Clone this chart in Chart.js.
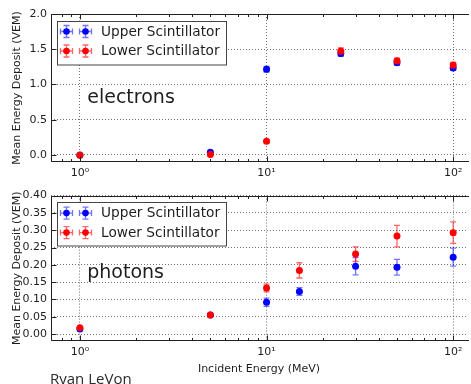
<!DOCTYPE html>
<html><head><meta charset="utf-8">
<script src="https://cdn.jsdelivr.net/npm/chart.js@4/dist/chart.umd.min.js"></script>
<style>
html,body{margin:0;padding:0;background:#fff;overflow:hidden;width:471px;height:384px;position:relative}
canvas{position:absolute;left:0}
#c1{top:0}
#c2{top:185px}
.credit{position:absolute;left:50px;top:368px;font:15px 'Open Sans',sans-serif;color:#2a2a2a;line-height:20px;white-space:nowrap}
</style></head>
<body>
<canvas id="c1" width="471" height="185"></canvas>
<canvas id="c2" width="471" height="199"></canvas>
<div class="credit">Ryan LeVon</div>
<script>
// ---- data ----
const seriesNames = ['Upper Scintillator', 'Lower Scintillator'];
const electronEnergies = [1, 5, 10, 25, 50, 100];
const electronUpper    = [0.0, 0.04, 1.215, 1.44, 1.31, 1.235];
const electronUpperErr = [0.005, 0.015, 0.04, 0.04, 0.035, 0.035];
const electronLower    = [-0.005, 0.005, 0.195, 1.475, 1.335, 1.275];
const electronLowerErr = [0.005, 0.01, 0.02, 0.045, 0.04, 0.04];

const photonEnergies = [1, 5, 10, 15, 30, 50, 100];
const photonUpper    = [0.015, 0.055, 0.092, 0.123, 0.196, 0.193, 0.222];
const photonUpperErr = [0.003, 0.004, 0.012, 0.011, 0.025, 0.023, 0.026];
const photonLower    = [0.018, 0.055, 0.133, 0.184, 0.231, 0.283, 0.293];
const photonLowerErr = [0.003, 0.004, 0.011, 0.022, 0.021, 0.031, 0.031];

const xTickValues = [1, 10, 100];
const xTickLabels = ['10\u2070', '10\u00B9', '10\u00B2'];
const electronYTicks = [0.0, 0.5, 1.0, 1.5, 2.0];
const photonYTicks = [0.00, 0.05, 0.10, 0.15, 0.20, 0.25, 0.30, 0.35, 0.40];
const yTitle = 'Mean Energy Deposit (VEM)';
const xTitle = 'Incident Energy (MeV)';

// ---- style ----
const FONT = "'DejaVu Sans', sans-serif";
const colors = ['#0000ff', '#ff0000'];
const errColors = ['rgba(0,0,255,0.55)', 'rgba(255,0,0,0.6)'];
const TXT = '#1e1e1e';

const errorBars = {
  id: 'errorBars',
  beforeDatasetDraw(chart, args) {
    const ds = chart.data.datasets[args.index];
    const ys = chart.scales.y;
    const ctx = chart.ctx;
    ctx.save();
    ctx.strokeStyle = ds.errColor;
    ctx.lineWidth = 1.3;
    args.meta.data.forEach((pt, i) => {
      const raw = ds.data[i];
      const x = pt.x;
      const y1 = ys.getPixelForValue(raw.y - raw.e);
      const y2 = ys.getPixelForValue(raw.y + raw.e);
      ctx.beginPath();
      ctx.moveTo(x, y1); ctx.lineTo(x, y2);
      ctx.moveTo(x - 3, y1); ctx.lineTo(x + 3, y1);
      ctx.moveTo(x - 3, y2); ctx.lineTo(x + 3, y2);
      ctx.stroke();
    });
    ctx.restore();
  }
};

const frame = {
  id: 'frame',
  afterDraw(chart, args, opts) {
    const {ctx, chartArea: a, scales: {x, y}} = chart;
    ctx.save();
    ctx.strokeStyle = '#222';
    ctx.lineWidth = 1;
    const L = Math.round(a.left) + 0.5, T = Math.round(a.top) + 0.5, B = Math.round(a.bottom) - 0.5;
    const R = a.right + 2;
    ctx.beginPath();
    ctx.moveTo(R, T); ctx.lineTo(L, T); ctx.lineTo(L, B); ctx.lineTo(R, B);
    // x ticks (major + minor), inward, bottom and top
    for (let k = -1; k <= 2; k++) {
      for (let m = 1; m <= 9; m++) {
        const v = m * Math.pow(10, k);
        if (v < x.min || v > x.max) continue;
        const px = Math.round(x.getPixelForValue(v)) + 0.5;
        const len = m === 1 ? 5 : 2.5;
        ctx.moveTo(px, B); ctx.lineTo(px, B - len);
        ctx.moveTo(px, T); ctx.lineTo(px, T + len);
      }
    }
    // y major ticks inward on left
    y.ticks.forEach(t => {
      const py = Math.round(y.getPixelForValue(t.value)) + 0.5;
      ctx.moveTo(L, py); ctx.lineTo(L + 5, py);
    });
    ctx.stroke();

    // legend box
    const bx = a.left + 6, by = a.top + 6.5, bw = 169, bh = 43.5;
    ctx.fillStyle = '#fff';
    ctx.fillRect(bx, by, bw, bh);
    ctx.strokeStyle = '#444';
    ctx.strokeRect(Math.round(bx) + 0.5, Math.round(by) + 0.5, bw, bh);
    chart.data.datasets.forEach((ds, i) => {
      const ry = by + 11 + i * 19.5;
      [bx + 9.5, bx + 28.5].forEach(mx => {
        ctx.strokeStyle = ds.errColor;
        ctx.lineWidth = 1.3;
        ctx.beginPath();
        ctx.moveTo(mx - 6, ry); ctx.lineTo(mx + 6, ry);
        ctx.moveTo(mx - 6, ry - 3); ctx.lineTo(mx - 6, ry + 3);
        ctx.moveTo(mx + 6, ry - 3); ctx.lineTo(mx + 6, ry + 3);
        ctx.moveTo(mx, ry - 6); ctx.lineTo(mx, ry + 6);
        ctx.moveTo(mx - 3, ry - 6); ctx.lineTo(mx + 3, ry - 6);
        ctx.moveTo(mx - 3, ry + 6); ctx.lineTo(mx + 3, ry + 6);
        ctx.stroke();
        ctx.fillStyle = ds.backgroundColor;
        ctx.beginPath(); ctx.arc(mx, ry, 3.3, 0, Math.PI * 2); ctx.fill();
      });
      ctx.fillStyle = TXT;
      ctx.font = "13.7px " + FONT;
      ctx.textBaseline = 'middle';
      ctx.textAlign = 'left';
      ctx.fillText(ds.label, bx + 44, ry + 0.5);
    });

    // panel annotation
    ctx.fillStyle = TXT;
    ctx.font = "19px " + FONT;
    ctx.textBaseline = 'alphabetic';
    ctx.fillText(opts.note, x.getPixelForValue(opts.noteX), y.getPixelForValue(opts.noteY));
    ctx.restore();
  }
};

function makeDatasets(xs, upper, upperErr, lower, lowerErr) {
  return [[upper, upperErr], [lower, lowerErr]].map(([vals, errs], i) => ({
    label: seriesNames[i],
    data: xs.map((xv, j) => ({x: xv, y: vals[j], e: errs[j]})),
    backgroundColor: colors[i],
    borderColor: colors[i],
    borderWidth: 0,
    pointRadius: 3.5,
    order: 1 - i,
    errColor: errColors[i]
  }));
}

function makeChart(id, datasets, yTicks, yMin, yMax, decimals, opts) {
  return new Chart(document.getElementById(id), {
    type: 'scatter',
    data: {datasets},
    plugins: [errorBars, frame],
    options: {
      responsive: false,
      devicePixelRatio: 1,
      animation: false,
      layout: {padding: {top: opts.padTop, bottom: opts.padBottom, left: 0, right: 0}},
      plugins: {
        legend: {display: false},
        tooltip: {enabled: false},
        frame: {note: opts.note, noteX: 1.095, noteY: opts.noteY}
      },
      scales: {
        x: {
          type: 'logarithmic',
          min: 0.7, max: 118.6,
          bounds: 'data',
          afterBuildTicks: s => { s.ticks = xTickValues.map(v => ({value: v, major: true})); },
          afterFit: s => { s.height = opts.xHeight; },
          ticks: {
            autoSkip: false, maxRotation: 0, padding: 5,
            color: TXT, font: {family: FONT, size: 11},
            callback: (v, i) => xTickLabels[i]
          },
          grid: {color: 'rgba(0,0,0,0.55)', lineWidth: 1, drawTicks: false},
          border: {display: false, dash: [1, 2]},
          title: {
            display: !!opts.xTitle, text: opts.xTitle || '',
            color: TXT, font: {family: FONT, size: 11}, padding: {top: 0, bottom: 0}
          }
        },
        y: {
          type: 'linear',
          min: yMin, max: yMax,
          bounds: 'data',
          afterBuildTicks: s => { s.ticks = yTicks.map(v => ({value: v})); },
          afterFit: s => { s.width = 51; },
          ticks: {
            padding: 4, color: TXT, font: {family: FONT, size: 11},
            callback: v => Number(v).toFixed(decimals)
          },
          grid: {color: 'rgba(0,0,0,0.55)', lineWidth: 1, drawTicks: false},
          border: {display: false, dash: [1, 2]},
          title: {
            display: true, text: yTitle, color: TXT,
            font: {family: FONT, size: 11}, padding: {top: 10.4, bottom: 0}
          }
        }
      }
    }
  });
}

makeChart('c1', makeDatasets(electronEnergies, electronUpper, electronUpperErr, electronLower, electronLowerErr),
  electronYTicks, -0.1, 2.0, 1,
  {padTop: 14, padBottom: 0, xHeight: 23, note: 'electrons', noteY: 0.74});

makeChart('c2', makeDatasets(photonEnergies, photonUpper, photonUpperErr, photonLower, photonLowerErr),
  photonYTicks, -0.02, 0.40, 2,
  {padTop: 9, padBottom: 8.4, xHeight: 34.6, note: 'photons', noteY: 0.161, xTitle: xTitle});
</script>
</body></html>
